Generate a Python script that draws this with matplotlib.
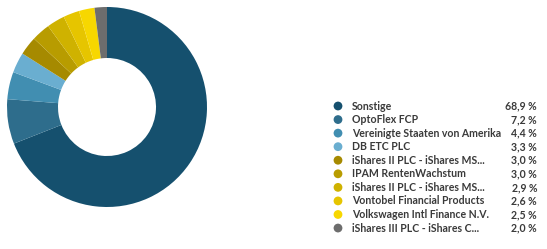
import matplotlib.pyplot as plt

labels = ["Sonstige", "OptoFlex FCP", "Vereinigte Staaten von Amerika", "DB ETC PLC",
          "iShares II PLC - iShares MS...", "IPAM RentenWachstum",
          "iShares II PLC - iShares MS...", "Vontobel Financial Products",
          "Volkswagen Intl Finance N.V.", "iShares III PLC - iShares C..."]
values = [68.9, 7.2, 4.4, 3.3, 3.0, 3.0, 2.9, 2.6, 2.5, 2.0]
colors = ["#15506e", "#2e6d8c", "#418eb1", "#6aaed0", "#a68a00",
          "#b89c00", "#cfb200", "#e6c500", "#f7d700", "#6d6d6d"]

W, H = 547, 249
fig = plt.figure(figsize=(W / 100, H / 100), dpi=100)

# donut: centre (107, 107) px, radius 100 px
cx, cy, r = 107, 107, 100
ax = fig.add_axes([(cx - r) / W, (H - cy - r) / H, 2 * r / W, 2 * r / H])
ax.pie(values, colors=colors, startangle=90, counterclock=False,
       wedgeprops=dict(width=0.51, edgecolor="none"))
ax.set_aspect("equal")
ax.set_xlim(-1, 1)
ax.set_ylim(-1, 1)

# legend drawn in pixel coordinates
lg = fig.add_axes([0, 0, 1, 1])
lg.set_xlim(0, W)
lg.set_ylim(H, 0)
lg.axis("off")
y0, dy = 106, 13.56
for i, (lab, val, col) in enumerate(zip(labels, values, colors)):
    y = y0 + i * dy
    lg.scatter([338], [y], s=40, color=col, edgecolors="none")
    lg.text(352, y, lab, fontsize=7.6, family="Lato", weight="bold",
            color="#3a3a3a", va="center")
    lg.text(537, y, f"{val:.1f} %".replace(".", ","), fontsize=7.6, family="Lato",
            weight="bold", color="#3a3a3a", va="center", ha="right")

fig.savefig("out.png", dpi=100)
